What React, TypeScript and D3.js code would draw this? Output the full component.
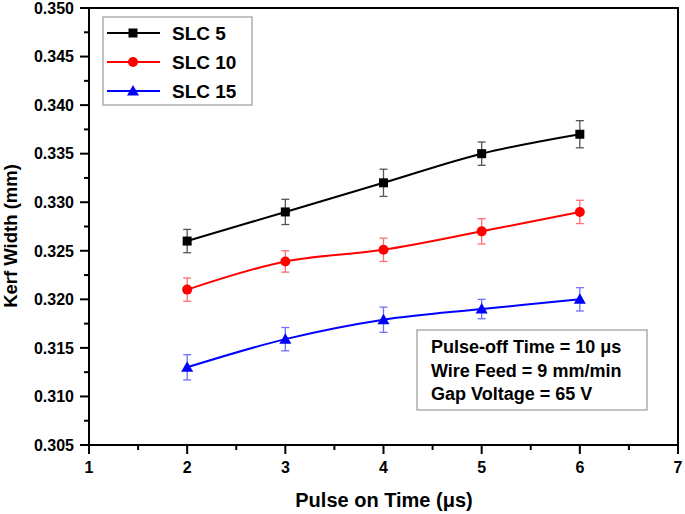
import React from "react";
import * as d3 from "d3";

const pulseOn = [2, 3, 4, 5, 6];
const slc5 = [0.326, 0.329, 0.332, 0.335, 0.337];
const slc10 = [0.321, 0.3239, 0.3251, 0.327, 0.329];
const slc15 = [0.313, 0.3159, 0.3179, 0.319, 0.32];
const err5 = [0.0012, 0.0013, 0.0014, 0.0012, 0.0014];
const err10 = [0.0012, 0.0011, 0.0012, 0.0013, 0.0012];
const err15 = [0.0013, 0.0012, 0.0013, 0.001, 0.0012];
const xTicks = [1, 2, 3, 4, 5, 6, 7];
const yTicks = [0.305, 0.31, 0.315, 0.32, 0.325, 0.33, 0.335, 0.34, 0.345, 0.35];
const notes = ["Pulse-off Time = 10 μs", "Wire Feed = 9 mm/min", "Gap Voltage = 65 V"];

const series = [
  { name: "SLC 5", values: slc5, err: err5, color: "#000000", errColor: "#555555", marker: "square" },
  { name: "SLC 10", values: slc10, err: err10, color: "#ff0000", errColor: "#ff7070", marker: "circle" },
  { name: "SLC 15", values: slc15, err: err15, color: "#0000ff", errColor: "#7070ff", marker: "triangle" },
];

const L = 89, R = 678, T = 8, B = 445;
const FONT = "'Liberation Sans', Arial, sans-serif";

function Marker({ type, x, y, color }: { type: string; x: number; y: number; color: string }) {
  if (type === "square") return <rect x={x - 4.5} y={y - 4.5} width={9} height={9} fill={color} />;
  if (type === "circle") return <circle cx={x} cy={y} r={5} fill={color} />;
  return <path d={`M${x},${y - 6} L${x + 6},${y + 4.5} L${x - 6},${y + 4.5} Z`} fill={color} />;
}

export default function App() {
  const x = d3.scaleLinear().domain([1, 7]).range([L, R]);
  const y = d3.scaleLinear().domain([0.305, 0.35]).range([B, T]);
  const line = d3
    .line<number>()
    .x((_, i) => x(pulseOn[i]))
    .y((d) => y(d))
    .curve(d3.curveCatmullRom.alpha(0.5));
  const xMinor = d3.range(1.5, 7, 1);
  const yMinor = d3.range(0.3075, 0.35, 0.005);

  return (
    <svg width={685} height={514} style={{ position: "absolute", left: 0, top: 0, background: "#fff" }} fontFamily={FONT}>
      {/* frame */}
      <rect x={L} y={T} width={R - L} height={B - T} fill="none" stroke="#000" strokeWidth={2} />
      {/* y ticks */}
      {yTicks.map((t) => (
        <g key={"y" + t}>
          <line x1={L - 9} x2={L} y1={y(t)} y2={y(t)} stroke="#000" strokeWidth={2} />
          <text x={L - 15} y={y(t)} dy="0.36em" textAnchor="end" fontSize={16} fontWeight="bold">
            {t.toFixed(3)}
          </text>
        </g>
      ))}
      {yMinor.map((t) => (
        <line key={"ym" + t} x1={L - 5} x2={L} y1={y(t)} y2={y(t)} stroke="#000" strokeWidth={2} />
      ))}
      {/* x ticks */}
      {xTicks.map((t) => (
        <g key={"x" + t}>
          <line x1={x(t)} x2={x(t)} y1={B} y2={B + 9} stroke="#000" strokeWidth={2} />
          <text x={x(t)} y={B + 28} textAnchor="middle" fontSize={16} fontWeight="bold">
            {t}
          </text>
        </g>
      ))}
      {xMinor.map((t) => (
        <line key={"xm" + t} x1={x(t)} x2={x(t)} y1={B} y2={B + 5} stroke="#000" strokeWidth={2} />
      ))}
      {/* axis titles */}
      <text x={384} y={507} textAnchor="middle" fontSize={20} fontWeight="bold">
        Pulse on Time (μs)
      </text>
      <text transform={`translate(17,236) rotate(-90)`} textAnchor="middle" fontSize={18.5} fontWeight="bold">
        Kerf Width (mm)
      </text>
      {/* series */}
      {series.map((s) => (
        <g key={s.name}>
          {s.values.map((v, i) => (
            <g key={i} stroke={s.errColor} strokeWidth={1.3}>
              <line x1={x(pulseOn[i])} x2={x(pulseOn[i])} y1={y(v - s.err[i])} y2={y(v + s.err[i])} />
              <line x1={x(pulseOn[i]) - 4} x2={x(pulseOn[i]) + 4} y1={y(v - s.err[i])} y2={y(v - s.err[i])} />
              <line x1={x(pulseOn[i]) - 4} x2={x(pulseOn[i]) + 4} y1={y(v + s.err[i])} y2={y(v + s.err[i])} />
            </g>
          ))}
          <path d={line(s.values) || ""} fill="none" stroke={s.color} strokeWidth={2} />
          {s.values.map((v, i) => (
            <Marker key={i} type={s.marker} x={x(pulseOn[i])} y={y(v)} color={s.color} />
          ))}
        </g>
      ))}
      {/* legend */}
      <rect x={103} y={17} width={149} height={88} fill="#fff" stroke="#999" strokeWidth={1.2} />
      {series.map((s, i) => {
        const ly = 33 + i * 29;
        return (
          <g key={"lg" + s.name}>
            <line x1={107} x2={160} y1={ly} y2={ly} stroke={s.color} strokeWidth={2} />
            <Marker type={s.marker} x={133} y={ly} color={s.color} />
            <text x={172} y={ly} dy="0.36em" fontSize={19} fontWeight="bold">
              {s.name}
            </text>
          </g>
        );
      })}
      {/* notes box */}
      <rect x={417} y={330} width={230} height={80} fill="#fff" stroke="#999" strokeWidth={1.2} />
      {notes.map((n, i) => (
        <text key={n} x={431} y={353 + i * 23.5} fontSize={18} fontWeight="bold">
          {n}
        </text>
      ))}
    </svg>
  );
}
